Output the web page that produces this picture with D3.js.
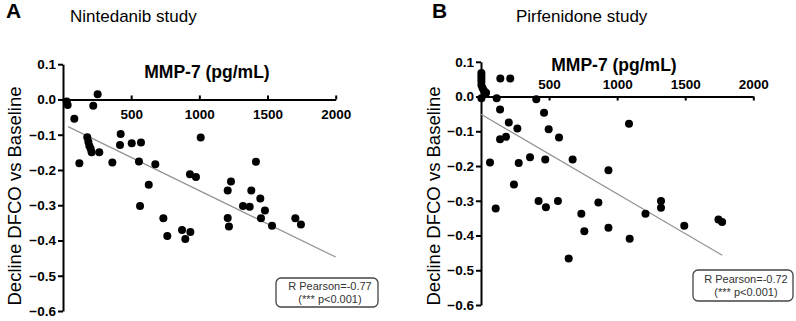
<!DOCTYPE html>
<html lang="en">
<head>
<meta charset="UTF-8"/>
<title>MMP-7 vs DFCO decline</title>
<script src="https://d3js.org/d3.v7.min.js"></script>
<style>
  body { margin: 0; background: #fff; }
  svg { display: block; font-family: "Liberation Sans", Arial, sans-serif; }
  .axis path, .axis line { stroke: #000; stroke-width: 2; }
  .axis text { font-family: "Liberation Sans", Arial, sans-serif; font-size: 13.5px; font-weight: bold; fill: #000; }
</style>
</head>
<body>
<script>
// MMP-7 (pg/mL) vs decline in DFCO
var xTicks = [500, 1000, 1500, 2000];
var yTicks = [0.1, 0.0, -0.1, -0.2, -0.3, -0.4, -0.5, -0.6];

var ninMMP = [27, 34, 254, 222, 83, 178, 186, 193, 203, 210, 266, 423, 418, 504, 572, 1010,
              120, 362, 557, 677, 629, 565, 736, 765, 873, 897, 934, 931, 975, 1208, 1232,
              1208, 1217, 1320, 1369, 1381, 1415, 1447, 1481, 1452, 1533, 1704, 1745];
var ninDFCO = [-0.006, -0.016, 0.015, -0.018, -0.055, -0.107, -0.120, -0.131, -0.140, -0.150, -0.150,
               -0.098, -0.129, -0.124, -0.122, -0.108, -0.181, -0.179, -0.176, -0.184, -0.242, -0.302,
               -0.337, -0.387, -0.370, -0.396, -0.376, -0.212, -0.220, -0.258, -0.233, -0.336, -0.360,
               -0.302, -0.304, -0.258, -0.177, -0.281, -0.315, -0.337, -0.358, -0.337, -0.355];

var pirMMP = [3, 3, 3, 3, 3, 12, 22, 37, 3, 142, 215, 115, 140, 204, 267, 140, 184, 406, 463, 497,
              573, 1087, 66, 108, 242, 277, 360, 472, 423, 477, 565, 673, 644, 737, 759, 862, 936,
              936, 1092, 1208, 1322, 1322, 1493, 1744, 1771];
var pirDFCO = [0.068, 0.060, 0.052, 0.043, 0.033, 0.024, 0.017, 0.011, -0.005, 0.052, 0.052, -0.005,
               -0.037, -0.075, -0.092, -0.123, -0.116, -0.008, -0.047, -0.094, -0.118, -0.078, -0.190,
               -0.322, -0.253, -0.191, -0.175, -0.181, -0.301, -0.319, -0.301, -0.181, -0.466, -0.337,
               -0.388, -0.305, -0.212, -0.378, -0.409, -0.337, -0.301, -0.320, -0.372, -0.354, -0.361];

var ninFit = [[37, -0.077], [2000, -0.447]];
var pirFit = [[0, -0.051], [1772, -0.457]];

var w = 796, h = 321;

var svg = d3.select("body").append("svg")
    .attr("width", w)
    .attr("height", h);

var panels = [
    { letter: "A", title: "Nintedanib study", mmp: ninMMP, dfco: ninDFCO, fit: ninFit,
      r: "R Pearson=-0.77", x0: 63, x1: 335.7, y0: 64.2, y1: 311, labelsBelow: true,
      letterX: 6, titleX: 70, mmpX: 207, mmpY: 78, yTitleX: 21,
      box: [276, 278, 102, 29] },
    { letter: "B", title: "Pirfenidone study", mmp: pirMMP, dfco: pirDFCO, fit: pirFit,
      r: "R Pearson=-0.72", x0: 481, x1: 753.3, y0: 61.8, y1: 305, labelsBelow: false,
      letterX: 432, titleX: 516, mmpX: 614, mmpY: 71, yTitleX: 440,
      box: [693, 270, 100, 31] }
];

panels.forEach(function(p) {
    var xScale = d3.scaleLinear().domain([0, 2000]).range([p.x0, p.x1]);
    var yScale = d3.scaleLinear().domain([0.1, -0.6]).range([p.y0, p.y1]);

    var g = svg.append("g");

    // panel letter and title
    g.append("text")
        .attr("x", p.letterX).attr("y", 18)
        .style("font-size", "21px").style("font-weight", "bold")
        .text(p.letter);
    g.append("text")
        .attr("x", p.titleX).attr("y", 22)
        .style("font-size", "17px")
        .text(p.title);

    // y axis
    var yAxis = d3.axisLeft(yScale)
        .tickValues(yTicks)
        .tickSizeInner(5)
        .tickSizeOuter(0)
        .tickPadding(2)
        .tickFormat(d3.format(".1f"));
    g.append("g")
        .attr("class", "axis")
        .attr("transform", "translate(" + p.x0 + ",0)")
        .call(yAxis);

    // x axis at y = 0, ticks pointing inward
    var xAxis = (p.labelsBelow ? d3.axisBottom(xScale) : d3.axisTop(xScale))
        .tickValues(xTicks)
        .tickSizeInner(-4)
        .tickSizeOuter(0)
        .tickPadding(p.labelsBelow ? 10 : 8)
        .tickFormat(d3.format("d"));
    g.append("g")
        .attr("class", "axis")
        .attr("transform", "translate(0," + yScale(0) + ")")
        .call(xAxis);

    // axis titles
    g.append("text")
        .attr("x", p.mmpX).attr("y", p.mmpY)
        .attr("text-anchor", "middle")
        .style("font-size", "17.5px").style("font-weight", "bold")
        .text("MMP-7 (pg/mL)");
    g.append("text")
        .attr("transform", "translate(" + p.yTitleX + "," + 196 + ") rotate(-90)")
        .attr("text-anchor", "middle")
        .style("font-size", "18.5px")
        .text("Decline DFCO vs Baseline");

    // regression line
    g.append("line")
        .attr("x1", xScale(p.fit[0][0])).attr("y1", yScale(p.fit[0][1]))
        .attr("x2", xScale(p.fit[1][0])).attr("y2", yScale(p.fit[1][1]))
        .attr("stroke", "#939393")
        .attr("stroke-width", 1.2);

    // points
    g.selectAll("circle")
        .data(p.mmp)
        .enter()
        .append("circle")
        .attr("cx", function(d) { return xScale(d); })
        .attr("cy", function(d, i) { return yScale(p.dfco[i]); })
        .attr("r", 4)
        .attr("fill", "#000");

    // correlation box
    var b = p.box;
    g.append("rect")
        .attr("x", b[0]).attr("y", b[1])
        .attr("width", b[2]).attr("height", b[3])
        .attr("rx", 5)
        .attr("fill", "#fff")
        .attr("stroke", "#444")
        .attr("stroke-width", 1.3);
    g.append("text")
        .attr("x", b[0] + b[2] / 2 + 3).attr("y", b[1] + b[3] / 2 - 2.5)
        .attr("text-anchor", "middle")
        .style("font-size", "11px").style("fill", "#333")
        .text(p.r);
    g.append("text")
        .attr("x", b[0] + b[2] / 2 + 3).attr("y", b[1] + b[3] / 2 + 10)
        .attr("text-anchor", "middle")
        .style("font-size", "11px").style("fill", "#333")
        .text("(*** p<0.001)");
});
</script>
</body>
</html>
